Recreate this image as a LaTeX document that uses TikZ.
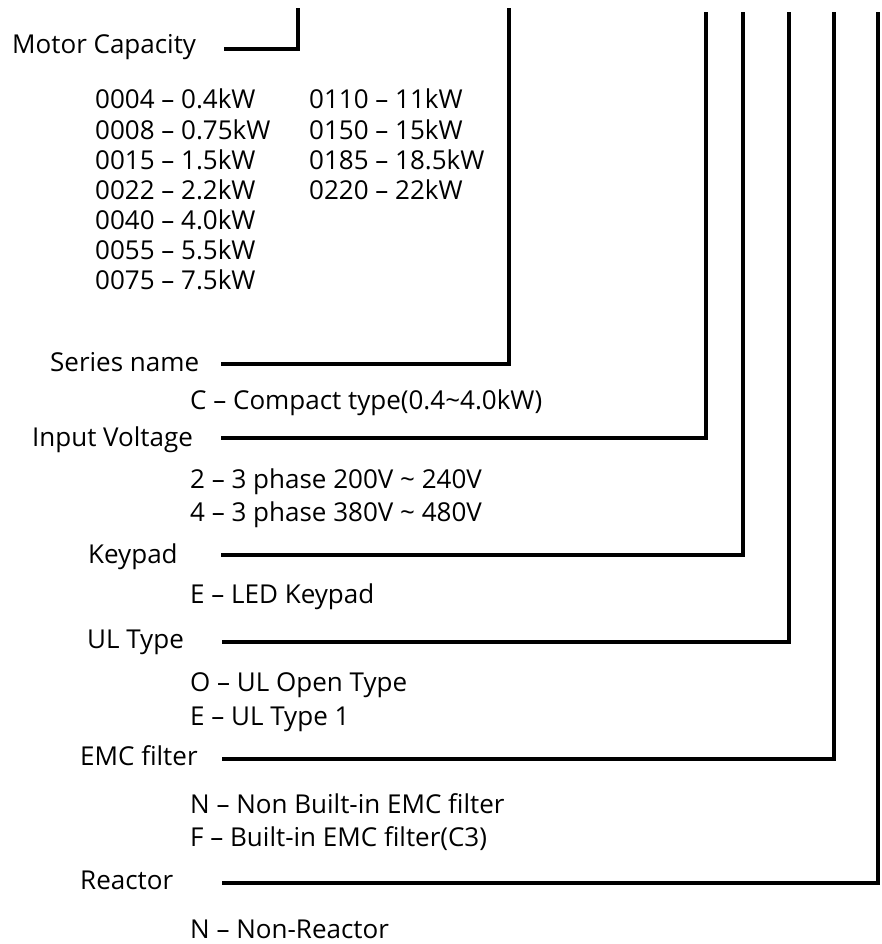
\documentclass[tikz,border=0pt]{standalone}
\usepackage{fontspec}
\setmainfont{Open Sans}
\usetikzlibrary{positioning}
\tikzset{
  field/.style={anchor=west, inner sep=0pt, text height=18pt, text depth=5pt, font=\fontsize{26}{31}\selectfont},
  choice/.style={field},
  wire/.style={line width=3.3pt, line join=miter}
}

\begin{document}
\begin{tikzpicture}[x=1pt, y=-1pt]
  \useasboundingbox (0,0) rectangle (881,944);

  % labels of the code fields
  \node (motor) [field] at (12,47) {Motor Capacity};
  \node (series) [field] at (50,365) {Series name};
  \node (volt) [field] at (32,440) {Input Voltage};
  \node (keypad) [field] at (88,557) {Keypad};
  \node (ul) [field] at (87,642) {UL Type};
  \node (emc) [field] at (80,759) {EMC filter};
  \node (reactor) [field] at (80,883) {Reactor};

  % capacity codes
  \node (c0004) [choice] at (95,102) {0004 -- 0.4kW};
  \node (c0008) [choice] at (95,133) {0008 -- 0.75kW};
  \node (c0015) [choice] at (95,163) {0015 -- 1.5kW};
  \node (c0022) [choice] at (95,193) {0022 -- 2.2kW};
  \node (c0040) [choice] at (95,223) {0040 -- 4.0kW};
  \node (c0055) [choice] at (95,253) {0055 -- 5.5kW};
  \node (c0075) [choice] at (95,283) {0075 -- 7.5kW};
  \node (c0110) [choice] at (309,102) {0110 -- 11kW};
  \node (c0150) [choice] at (309,133) {0150 -- 15kW};
  \node (c0185) [choice] at (309,163) {0185 -- 18.5kW};
  \node (c0220) [choice] at (309,193) {0220 -- 22kW};

  % other codes
  \node (compact) [choice] at (190,403) {C -- Compact type(0.4\textasciitilde4.0kW)};
  \node (v2) [choice] at (190,482) {2 -- 3 phase 200V \textasciitilde{} 240V};
  \node (v4) [choice] at (190,515) {4 -- 3 phase 380V \textasciitilde{} 480V};
  \node (led) [choice] at (190,597) {E -- LED Keypad};
  \node (open) [choice] at (190,685) {O -- UL Open Type};
  \node (type1) [choice] at (190,719) {E -- UL Type 1};
  \node (nonemc) [choice] at (190,807) {N -- Non Built-in EMC filter};
  \node (withemc) [choice] at (190,840) {F -- Built-in EMC filter(C3)};
  \node (nonreac) [choice] at (190,932) {N -- Non-Reactor};

  % free ends of the leader lines
  \coordinate (motor-s) at (224,49);
  \coordinate (motor-t) at (298,8);
  \coordinate (series-s) at (221,364);
  \coordinate (series-t) at (509,8);
  \coordinate (volt-s) at (221,438);
  \coordinate (volt-t) at (706,12);
  \coordinate (keypad-s) at (221,555);
  \coordinate (keypad-t) at (743,12);
  \coordinate (ul-s) at (222,642);
  \coordinate (ul-t) at (789,12);
  \coordinate (emc-s) at (222,759);
  \coordinate (emc-t) at (834,12);
  \coordinate (reactor-s) at (222,883);
  \coordinate (reactor-t) at (878,12);

  \draw [wire] (motor-s) -| (motor-t);
  \draw [wire] (series-s) -| (series-t);
  \draw [wire] (volt-s) -| (volt-t);
  \draw [wire] (keypad-s) -| (keypad-t);
  \draw [wire] (ul-s) -| (ul-t);
  \draw [wire] (emc-s) -| (emc-t);
  \draw [wire] (reactor-s) -| (reactor-t);
\end{tikzpicture}
\end{document}
